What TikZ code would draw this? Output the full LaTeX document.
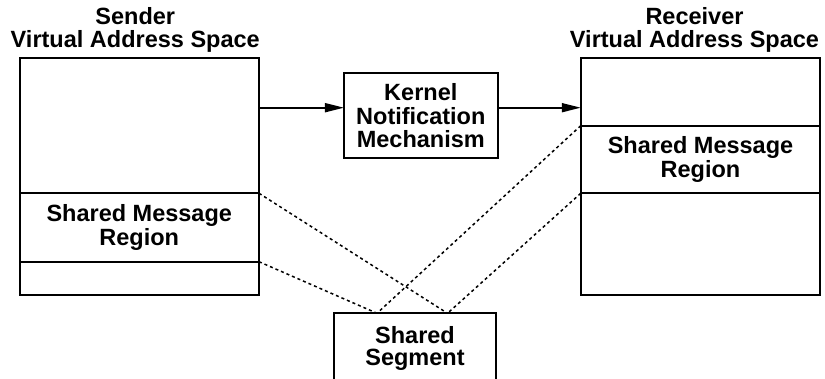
\documentclass[tikz,border=0pt]{standalone}
\usepackage{fontspec}
\setmainfont{Liberation Sans}
\usetikzlibrary{positioning, arrows.meta}

\begin{document}
\begin{tikzpicture}[
  x=1pt, y=-1pt,
  every node/.style={font=\bfseries\fontsize{23.5}{23.5}\selectfont, align=center},
  part/.style={draw, line width=2pt, minimum width=239.5pt, inner sep=0pt, outer sep=0pt}, % Address space slices
  blockbox/.style={draw, line width=2pt, inner sep=0pt, outer sep=0pt},
  title/.style={inner sep=0pt},
  link/.style={line width=1.5pt, dash pattern=on 3pt off 3pt},
  notify/.style={line width=1.8pt, -{Triangle[length=19pt,width=9pt]}}
]
\useasboundingbox (0,0) rectangle (825,379);

% Sender side
\node[part, minimum height=135.3pt, anchor=north west] (sendtop) at (19.5,58) {};
\node[part, minimum height=68.4pt, below=0pt of sendtop] (sendmid) {Shared Message\\Region};
\node[part, minimum height=33.3pt, below=0pt of sendmid] (sendlow) {};
\node[title, above=5pt of sendtop, xshift=-4pt] (sendtitle) {Sender\\Virtual Address Space};

% Receiver side
\node[part, minimum height=67.7pt, anchor=north west] (recvtop) at (580.75,58) {};
\node[part, minimum height=67.6pt, below=0pt of recvtop] (recvmid) {Shared Message\\Region};
\node[part, minimum height=101.7pt, below=0pt of recvmid] (recvlow) {};
\node[title, above=5pt of recvtop, xshift=-6pt] (recvtitle) {Receiver\\Virtual Address Space};

% Kernel and shared segment
\node[blockbox, minimum width=153.7pt, minimum height=85pt] (kernel) at (420.8,115.8) {Kernel\\Notification\\Mechanism};
\node[blockbox, minimum width=162pt, minimum height=70.4pt, anchor=north,
  font=\bfseries\fontsize{23.5}{21.5}\selectfont] (segment) at (415,313.3) {Shared\\Segment};
\coordinate[left=38pt of segment.north] (segl);
\coordinate[right=32.5pt of segment.north] (segr);

% Notification path
\coordinate (sig) at (0,107.7);
\draw[notify] (sig -| sendtop.east) -- (sig -| kernel.west);
\draw[notify] (sig -| kernel.east) -- (sig -| recvtop.west);

% Mappings to the shared segment
\draw[link] (sendmid.north east) -- (segr);
\draw[link] (sendmid.south east) -- (segl);
\draw[link] (recvmid.north west) -- (segl);
\draw[link] (recvmid.south west) -- (segr);
\end{tikzpicture}
\end{document}
